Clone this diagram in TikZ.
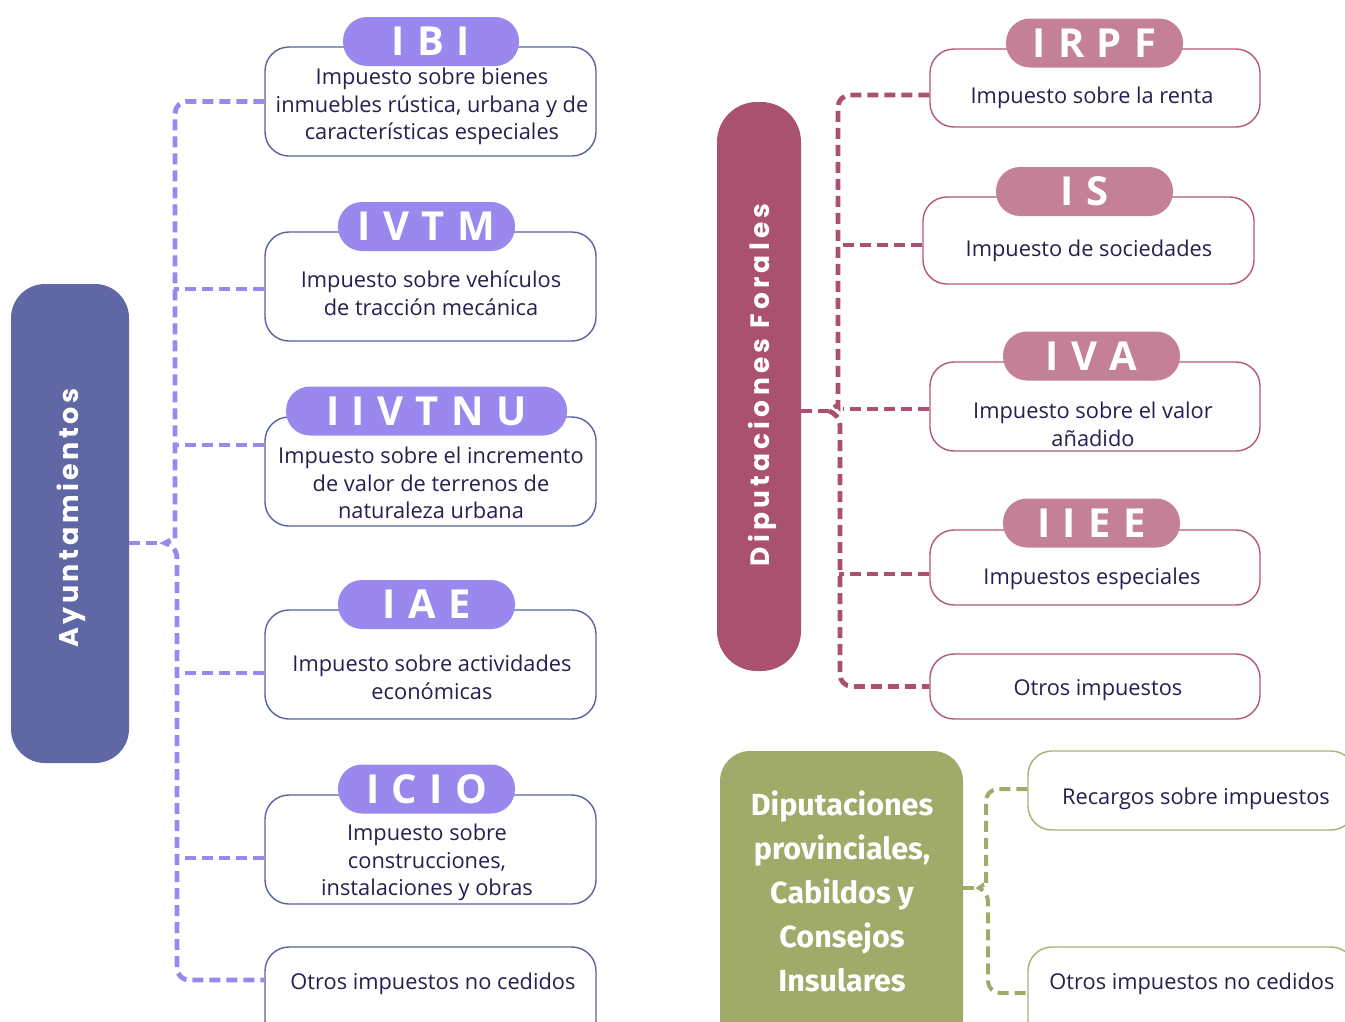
\documentclass[tikz,border=0pt]{standalone}
\usepackage{fontspec}
\setmainfont{Open Sans}
\newfontfamily\pillfont{Open Sans}[LetterSpace=5]
\newfontfamily\vertfont{Poppins}[LetterSpace=13]
\newfontfamily\vertfontb{Poppins}[LetterSpace=16]
\newfontfamily\grfont{Fira Sans}
\definecolor{ayun}{HTML}{5F68A5}
\definecolor{lpill}{HTML}{9B88EE}
\definecolor{lbord}{HTML}{5A62A0}
\definecolor{txt}{HTML}{24204F}
\definecolor{foral}{HTML}{A9516F}
\definecolor{rpill}{HTML}{C48097}
\definecolor{rbord}{HTML}{B2587A}
\definecolor{grn}{HTML}{A0AA69}
\definecolor{gbord}{HTML}{A8B173}
\begin{document}
\begin{tikzpicture}[x=1pt,y=-1pt,
  tbox/.style={draw, line width=1.4pt, rounded corners=24pt, fill=white, inner sep=0pt, minimum width=331},
  pill/.style={rounded corners=24pt, minimum height=49, minimum width=177, text=white, inner sep=0pt,
     font=\pillfont\bfseries\fontsize{40}{40}\selectfont},
  body/.style={text=txt, align=center, inner sep=0pt, font=\fontsize{21.8}{27.5}\selectfont},
  dsh/.style={line width=4.8pt, dash pattern=on 11pt off 6pt},
  ldash/.style={dsh, draw=lpill},
  rdash/.style={dsh, draw=foral},
  gdash/.style={dsh, draw=grn, line width=4pt}]
\useasboundingbox (0,0) rectangle (1345,1021);
\clip (0,0) rectangle (1345,1021);
\fill[white] (0,0) rectangle (1345,1021);

% ---------------- left: Ayuntamientos ----------------
\node[fill=ayun, rounded corners=34pt, minimum width=118, minimum height=479, inner sep=0pt] (ayunt) at (70,523.5) {};
\node[rotate=90, text=white, inner sep=0pt, font=\vertfont\bfseries\fontsize{27}{27}\selectfont] (ayuntt) at (71,518) {Ayuntamientos};

\node[tbox, draw=lbord, minimum height=109] (ibi) at (430.5,101.5) {};
\node[tbox, draw=lbord, minimum height=109] (ivtm) at (430.5,286.5) {};
\node[tbox, draw=lbord, minimum height=109] (iivtnu) at (430.5,471.5) {};
\node[tbox, draw=lbord, minimum height=109] (iae) at (430.5,664.5) {};
\node[tbox, draw=lbord, minimum height=109] (icio) at (430.5,849.5) {};
\node[tbox, draw=lbord, minimum height=98] (lotr) at (430.5,996) {};

\node[pill, fill=lpill, minimum width=176] (ibip) at (431,41.5) {I B I};
\node[pill, fill=lpill] (ivtmp) at (426.5,226.5) {I V T M};
\node[pill, fill=lpill, minimum width=281] (iivtnup) at (426.5,411) {I I V T N U};
\node[pill, fill=lpill] (iaep) at (426.5,604.5) {I A E};
\node[pill, fill=lpill] (iciop) at (426.5,789) {I C I O};

\node[body] (ibit) at (432,106.5) {Impuesto sobre bienes\\inmuebles rústica, urbana y de\\características especiales};
\node[body] (ivtmt) at (431,293) {Impuesto sobre vehículos\\de tracción mecánica};
\node[body] (iivtnut) at (431,483) {Impuesto sobre el incremento\\de valor de terrenos de\\naturaleza urbana};
\node[body] (iaet) at (432,677.5) {Impuesto sobre actividades\\económicas};
\node[body] (iciot) at (427,862.5) {Impuesto sobre\\construcciones,\\instalaciones y obras};
\node[body] (lotrt) at (433,984) {Otros impuestos no cedidos};

\coordinate (ltip) at (165,543);
\draw[ldash] (ibi.west) [rounded corners=12pt] -| (175,527) [sharp corners] .. controls (175,536) and (170,541) .. (ltip)
   .. controls (171,545) and (177,549) .. (177,559) [rounded corners=12pt] |- ([yshift=16pt]lotr.west);
\draw[ldash] (ayunt.east |- ltip) -- (ltip);
\draw[ldash] ([yshift=-2.5pt]ivtm.west) -- ++(-90,0);
\draw[ldash] ([yshift=26.5pt]iivtnu.west) -- ++(-90,0);
\draw[ldash] ([yshift=-8.5pt]iae.west) -- ++(-88,0);
\draw[ldash] ([yshift=-8.5pt]icio.west) -- ++(-88,0);

% ---------------- right: Diputaciones Forales ----------------
\node[fill=foral, rounded corners=40pt, minimum width=84, minimum height=569, inner sep=0pt] (foralb) at (759,386.5) {};
\node[rotate=90, text=white, inner sep=0pt, font=\vertfontb\bfseries\fontsize{26.5}{26.5}\selectfont] (foralt) at (762,385) {Diputaciones Forales};

\node[tbox, draw=rbord, minimum width=330, minimum height=78] (irpf) at (1095,88) {};
\node[tbox, draw=rbord, minimum width=331, minimum height=87] (is) at (1088.5,240.5) {};
\node[tbox, draw=rbord, minimum width=330, minimum height=89] (iva) at (1095,406.5) {};
\node[tbox, draw=rbord, minimum width=330, minimum height=75] (iiee) at (1095,567.5) {};
\node[tbox, draw=rbord, minimum width=330, minimum height=65] (rotr) at (1095,686.5) {};

\node[pill, fill=rpill] (irpfp) at (1094.5,43) {I R P F};
\node[pill, fill=rpill] (isp) at (1084.5,191.5) {I S};
\node[pill, fill=rpill] (ivap) at (1091.5,356) {I V A};
\node[pill, fill=rpill] (iieep) at (1091.5,523) {I I E E};

\node[body] (irpft) at (1092,98) {Impuesto sobre la renta};
\node[body] (ist) at (1089,251) {Impuesto de sociedades};
\node[body] (ivat) at (1093,424.5) {Impuesto sobre el valor\\añadido};
\node[body] (iieet) at (1092,579) {Impuestos especiales};
\node[body] (rotrt) at (1098,690) {Otros impuestos};

\coordinate (rtip) at (829,411);
\draw[rdash] ([yshift=-7pt]irpf.west) [rounded corners=12pt] -| (838,394) [sharp corners] .. controls (838,403) and (834,409) .. (rtip)
   .. controls (834,413) and (840,417) .. (840,427) [rounded corners=12pt] |- (rotr.west);
\draw[rdash] (foralb.east |- rtip) -- (rtip);
\draw[rdash] ([yshift=-4.5pt]is.west) -- ++(-85,0);
\draw[rdash] ([yshift=-2.5pt]iva.west) -- ++(-86,0);
\draw[rdash] ([yshift=-6.5pt]iiee.west) -- ++(-90,0);

% ---------------- green ----------------
\node[fill=grn, rounded corners=30pt, minimum width=243, minimum height=300, inner sep=0pt] (gbox) at (841.5,901) {};
\node[text=white, align=center, inner sep=0pt, font=\grfont\bfseries\fontsize{30.5}{44}\selectfont] (gboxt) at (842,891)
  {Diputaciones\\provinciales,\\Cabildos y\\Consejos\\Insulares};

\node[tbox, draw=gbord, minimum width=327, minimum height=79] (grec) at (1191.5,790.5) {};
\node[tbox, draw=gbord, minimum width=327, minimum height=98] (gotr) at (1191.5,996) {};
\node[body] (grect) at (1196,799) {Recargos sobre impuestos};
\node[body] (gotrt) at (1192,984) {Otros impuestos no cedidos};

\coordinate (gtip) at (979,888);
\draw[gdash] ([yshift=1.5pt]grec.west) [rounded corners=12pt] -| (986,874) [sharp corners] .. controls (986,882) and (982,886) .. (gtip)
   .. controls (983,890) and (988,894) .. (988,903) [rounded corners=12pt] |- ([yshift=3pt]gotr.west);
\draw[gdash] (gbox.east |- gtip) -- (gtip);
\end{tikzpicture}
\end{document}
